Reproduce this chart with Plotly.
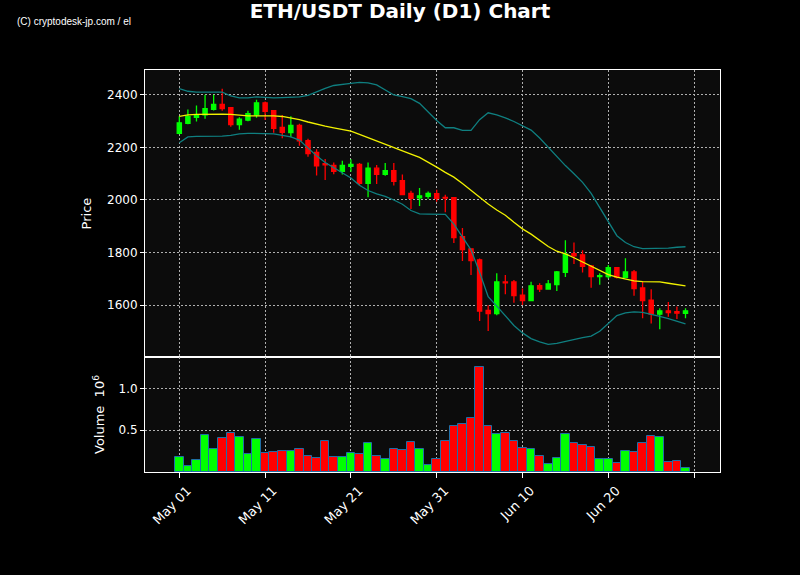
import pandas as pd
import plotly.graph_objects as go

# ---------------- data ----------------
dates = pd.date_range("2023-05-01", periods=60, freq="D")

open_ = [2254, 2292, 2315, 2324, 2345, 2364, 2352, 2287, 2304, 2324,
         2370, 2340, 2276, 2257, 2284, 2226, 2181, 2138, 2132, 2109,
         2128, 2136, 2063, 2121, 2098, 2112, 2074, 2025, 2008, 2014,
         2024, 2010, 2009, 1860, 1814, 1772, 1580, 1567, 1688, 1688,
         1638, 1617, 1674, 1661, 1678, 1724, 1796, 1791, 1749, 1708,
         1708, 1742, 1705, 1726, 1665, 1619, 1565, 1578, 1575, 1568]
high = [2319, 2345, 2360, 2401, 2401, 2424, 2354, 2315, 2340, 2382,
        2375, 2342, 2324, 2319, 2290, 2233, 2193, 2156, 2143, 2149,
        2155, 2141, 2143, 2133, 2141, 2141, 2097, 2035, 2046, 2032,
        2039, 2020, 2011, 1893, 1816, 1777, 1599, 1721, 1714, 1695,
        1663, 1689, 1683, 1695, 1730, 1847, 1838, 1809, 1752, 1721,
        1752, 1744, 1778, 1733, 1688, 1660, 1588, 1612, 1594, 1588]
low = [2250, 2288, 2299, 2309, 2341, 2340, 2279, 2267, 2300, 2313,
       2305, 2256, 2235, 2239, 2207, 2165, 2093, 2076, 2098, 2097,
       2108, 2055, 2010, 2061, 2092, 2055, 2019, 1966, 1977, 2005,
       1993, 1953, 1836, 1768, 1714, 1539, 1501, 1561, 1641, 1609,
       1600, 1615, 1650, 1658, 1653, 1707, 1756, 1724, 1666, 1677,
       1701, 1701, 1703, 1635, 1550, 1530, 1508, 1555, 1547, 1550]
close = [2294, 2318, 2324, 2348, 2364, 2348, 2287, 2308, 2329, 2370,
         2338, 2273, 2258, 2284, 2225, 2177, 2130, 2134, 2109, 2132,
         2136, 2063, 2121, 2098, 2112, 2071, 2021, 2006, 2016, 2025,
         2006, 2007, 1857, 1811, 1769, 1577, 1567, 1688, 1684, 1636,
         1617, 1673, 1661, 1680, 1726, 1794, 1787, 1747, 1708, 1712,
         1742, 1706, 1726, 1663, 1617, 1565, 1578, 1571, 1569, 1578]
volume_m = [0.18, 0.07, 0.145, 0.44, 0.28, 0.41, 0.47, 0.42, 0.22, 0.40,
            0.23, 0.24, 0.25, 0.25, 0.28, 0.19, 0.17, 0.37, 0.18, 0.18,
            0.23, 0.22, 0.35, 0.19, 0.16, 0.28, 0.26, 0.36, 0.28, 0.085,
            0.16, 0.37, 0.55, 0.57, 0.645, 1.25, 0.55, 0.455, 0.47, 0.37,
            0.29, 0.28, 0.19, 0.10, 0.17, 0.455, 0.35, 0.32, 0.30, 0.16,
            0.16, 0.11, 0.25, 0.24, 0.35, 0.43, 0.42, 0.12, 0.13, 0.05]
sma = [2318, 2324, 2326, 2327, 2327, 2327, 2326, 2322, 2320, 2320,
       2321, 2320, 2318, 2313, 2306, 2297, 2288, 2281, 2275, 2269,
       2262, 2250, 2238, 2225, 2212, 2200, 2188, 2175, 2162, 2145,
       2125, 2105, 2087, 2063, 2036, 2012, 1985, 1962, 1942, 1915,
       1890, 1870, 1846, 1823, 1805, 1795, 1780, 1764, 1748, 1732,
       1716, 1706, 1698, 1692, 1689, 1688, 1688, 1683, 1677, 1673]
upper = [2424, 2414, 2411, 2411, 2411, 2411, 2396, 2389, 2389, 2393,
         2391, 2389, 2390, 2391, 2393, 2398, 2412, 2425, 2436, 2441,
         2444, 2448, 2446, 2438, 2420, 2400, 2394, 2386, 2368, 2334,
         2303, 2275, 2275, 2265, 2265, 2306, 2332, 2324, 2313, 2299,
         2284, 2266, 2236, 2201, 2163, 2131, 2100, 2067, 2025, 1972,
         1915, 1864, 1838, 1822, 1815, 1815, 1815, 1817, 1820, 1822]
lower = [2218, 2240, 2242, 2242, 2242, 2243, 2246, 2252, 2254, 2254,
         2254, 2252, 2246, 2240, 2228, 2198, 2168, 2143, 2124, 2105,
         2084, 2056, 2036, 2023, 2014, 2000, 1984, 1960, 1947, 1946,
         1946, 1945, 1908, 1860, 1810, 1725, 1632, 1596, 1560, 1522,
         1494, 1472, 1460, 1450, 1454, 1462, 1470, 1476, 1482, 1500,
         1530, 1560, 1570, 1574, 1572, 1565, 1557, 1548, 1538, 1528]

tick_dates = ["2023-05-01", "2023-05-11", "2023-05-21", "2023-05-31",
              "2023-06-10", "2023-06-20"]
tick_labels = ["May 01", "May 11", "May 21", "May 31", "Jun 10", "Jun 20"]
price_ticks = [1600, 1800, 2000, 2200, 2400]
volume_ticks = [0.5, 1.0]
volume_tick_labels = ["0.5", "1.0"]

# ---------------- styling ----------------
GREEN = "#00ff00"
RED = "#ff0000"
FONT = "DejaVu Sans"
GRID = "#b0b0b0"
GRID_DASH = "1.5px,2.5px"
DAY_MS = 86400000
vol_colors = [GREEN if c >= o else RED for o, c in zip(open_, close)]

fig = go.Figure()

fig.add_trace(go.Scatter(x=dates, y=upper, mode="lines",
                         line=dict(color="#0f7f80", width=1.3),
                         xaxis="x", yaxis="y", showlegend=False))
fig.add_trace(go.Scatter(x=dates, y=lower, mode="lines",
                         line=dict(color="#0f7f80", width=1.3),
                         xaxis="x", yaxis="y", showlegend=False))
fig.add_trace(go.Scatter(x=dates, y=sma, mode="lines",
                         line=dict(color="#f2f200", width=1.3),
                         xaxis="x", yaxis="y", showlegend=False))
fig.add_trace(go.Candlestick(
    x=dates, open=open_, high=high, low=low, close=close,
    increasing=dict(line=dict(color=GREEN, width=1.3), fillcolor=GREEN),
    decreasing=dict(line=dict(color=RED, width=1.3), fillcolor=RED),
    whiskerwidth=0, xaxis="x", yaxis="y", showlegend=False))

fig.add_trace(go.Bar(x=dates, y=volume_m, width=DAY_MS * 1.0,
                     marker=dict(color=vol_colors,
                                 line=dict(color="#1f6fa8", width=1)),
                     xaxis="x2", yaxis="y2", showlegend=False))

xrange_ = ["2023-04-27 00:00", "2023-07-03 00:30"]
axis_common = dict(showline=True, linecolor="white", linewidth=1, mirror=True,
                   showgrid=True, gridcolor=GRID, griddash=GRID_DASH, gridwidth=1,
                   zeroline=False)
minor_x = dict(dtick=10 * DAY_MS, tick0="2023-05-01", showgrid=True,
               gridcolor=GRID, griddash=GRID_DASH, gridwidth=1)

fig.update_layout(
    width=800, height=575,
    paper_bgcolor="black", plot_bgcolor="#0c0c0c",
    margin=dict(l=145, r=80, t=70, b=103),
    font=dict(family=FONT, color="white", size=12),
    title=dict(text="<b>ETH/USDT Daily (D1) Chart</b>", x=0.5, xanchor="center",
               xref="container", y=1 - 11 / 575, yref="container", yanchor="middle",
               font=dict(family=FONT, size=20, color="white")),
    showlegend=False,
    bargap=0,
    xaxis=dict(domain=[0, 1], anchor="y", type="date", range=xrange_,
               tickvals=tick_dates, ticks="", showticklabels=False,
               minor=dict(ticks="", **minor_x),
               rangeslider=dict(visible=False), **axis_common),
    yaxis=dict(domain=[0.286, 1], anchor="x", range=[1402, 2495],
               tickvals=price_ticks,
               ticks="outside", ticklen=4, tickcolor="white",
               tickfont=dict(size=12, color="white"),
               title=dict(text="Price", standoff=12,
                          font=dict(size=13, color="white")),
               **axis_common),
    xaxis2=dict(domain=[0, 1], anchor="y2", type="date", range=xrange_,
                matches="x",
                tickvals=tick_dates, ticktext=tick_labels, tickangle=-45,
                ticklabelshift=8,
                ticks="outside", ticklen=5, tickcolor="white",
                minor=dict(ticks="outside", ticklen=5, tickcolor="white", **minor_x),
                tickfont=dict(size=13, color="white"),
                **axis_common),
    yaxis2=dict(domain=[0, 0.286], anchor="x2", range=[0, 1.375],
                tickvals=volume_ticks, ticktext=volume_tick_labels,
                ticks="outside", ticklen=4, tickcolor="white",
                tickfont=dict(size=12, color="white"),
                title=dict(text="Volume  10<sup>6</sup>", standoff=10,
                           font=dict(size=13, color="white")),
                **axis_common),
    annotations=[dict(text="(C) cryptodesk-jp.com / el", xref="paper", yref="paper",
                      x=(15 - 145) / 575, y=(472 - 21) / 402,
                      xanchor="left", yanchor="middle", showarrow=False,
                      font=dict(family="Liberation Sans", size=10, color="white"))],
)

# remove the default page margin so the 800x575 figure fills the window exactly
fig.write_html("out.html",
               config={"displayModeBar": False},
               post_script="document.body.style.margin='0';"
                           "document.body.style.background='black';")
